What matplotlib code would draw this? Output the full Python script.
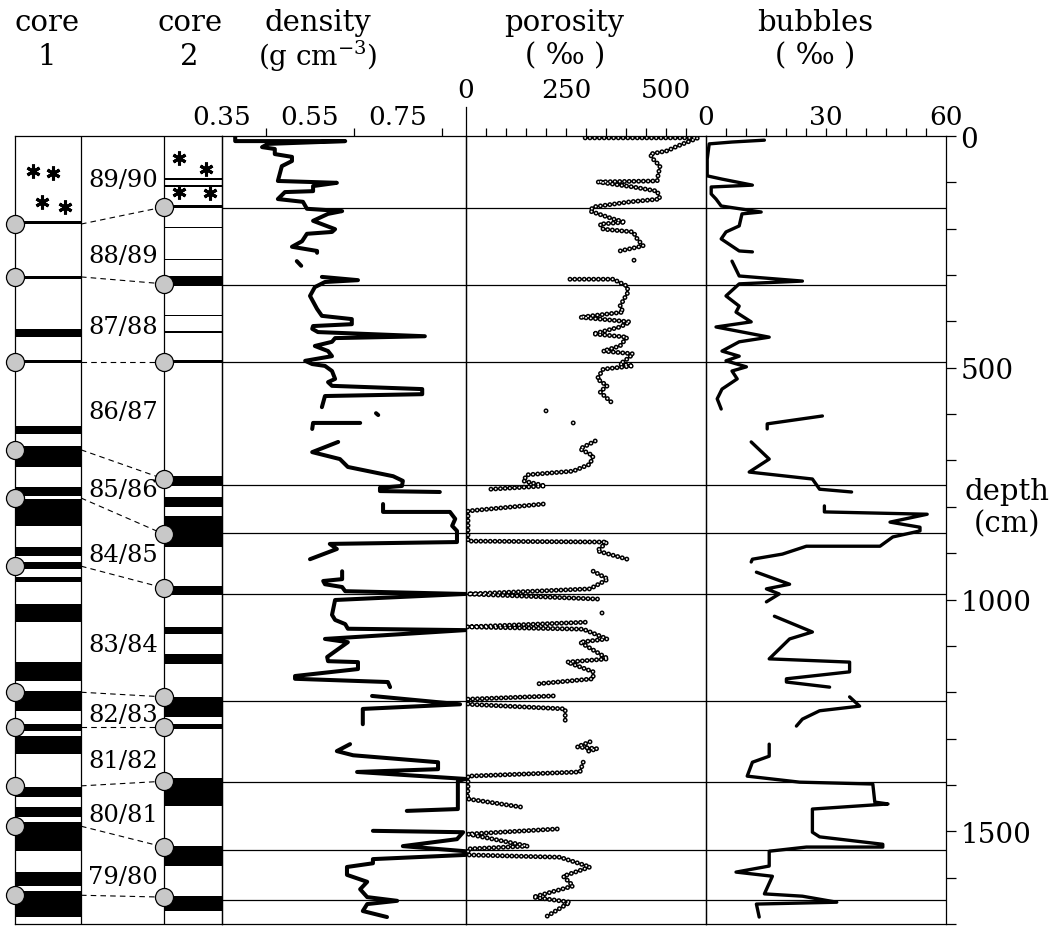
import numpy as np
import matplotlib
matplotlib.use('Agg')
import matplotlib.pyplot as plt

plt.rcParams['font.family'] = ['DejaVu Serif', 'DejaVu Sans']
plt.rcParams['mathtext.fontset'] = 'dejavuserif'
plt.rcParams['lines.scale_dashes'] = False

nan = np.nan

# ---------------- data (depth in cm) ----------------
density_depth = [0, 11, 11, 17, 24, 28, 39, 45, 54, 65, 97, 101, 108, 119, 121, 136, 142, 157, 162, 168, 183, 201, 207, 211, 227, 239, 248, 252, nan,
                 270, 280, nan,
                 304, 311, 315, 326, 345, 373, 388, 395, 406, 410, 416, 423, 432, 436, 444, 453, 464, 475, 485, 492, 496, 507, 524, 531, 539, 546, 557, 561, 585, nan,
                 598, 602, nan,
                 632, 619, 619, nan,
                 660, 682, 697, 714, 734, 744, 755, 759, 766, 768, nan,
                 794, 811, 811, 826, 841, 852, 876, 880, 891, 913, nan,
                 939, 956, 960, 967, 973, 982, 988, 1001, 1033, 1044, 1053, 1063, 1066, 1085, 1092, 1107, 1124, 1133, 1135, 1150, 1165, 1171, 1178, 1189, nan,
                 1208, 1226, 1236, 1269, nan,
                 1312, 1327, 1336, 1351, 1366, 1372, 1387, 1392, 1452, 1456, nan,
                 1499, 1502, 1517, 1532, 1543, 1551, 1560, 1569, 1577, 1594, 1609, 1625, 1642, 1650, 1657, 1672, 1685]
density_value = [0.380, 0.380, 0.630, 0.455, 0.441, 0.470, 0.470, 0.509, 0.509, 0.486, 0.477, 0.611, 0.557, 0.557, 0.493, 0.477, 0.534, 0.543, 0.623, 0.591, 0.557, 0.607, 0.600, 0.543, 0.532, 0.509, 0.566, 0.566, nan,
                 0.520, 0.530, nan,
                 0.577, 0.659, 0.584, 0.561, 0.550, 0.566, 0.577, 0.645, 0.645, 0.557, 0.555, 0.568, 0.811, 0.607, 0.600, 0.561, 0.591, 0.600, 0.539, 0.555, 0.584, 0.600, 0.607, 0.591, 0.600, 0.805, 0.805, 0.584, 0.577, nan,
                 0.700, 0.705, nan,
                 0.555, 0.557, 0.664, nan,
                 0.614, 0.555, 0.618, 0.636, 0.739, 0.761, 0.759, 0.709, 0.709, 0.845, nan,
                 0.716, 0.716, 0.868, 0.880, 0.873, 0.884, 0.884, 0.595, 0.611, 0.550, nan,
                 0.623, 0.623, 0.580, 0.584, 0.623, 0.630, 0.903, 0.607, 0.600, 0.607, 0.630, 0.636, 0.903, 0.584, 0.636, 0.614, 0.589, 0.591, 0.659, 0.659, 0.516, 0.516, 0.727, 0.732, nan,
                 0.691, 0.891, 0.670, 0.670, nan,
                 0.641, 0.611, 0.648, 0.841, 0.841, 0.657, 0.903, 0.886, 0.886, 0.770, nan,
                 0.693, 0.898, 0.884, 0.761, 0.903, 0.903, 0.693, 0.693, 0.634, 0.634, 0.680, 0.664, 0.680, 0.748, 0.680, 0.670, 0.725]

porosity_depth = [4, 4, 22, 32, 39, 50, 65, 86, 97, 99, 110, 119, 136, 142, 153, 162, 179, 186, 190, 201, 207, 222, 237, 248, 255, nan,
                  268, 274, nan,
                  309, 309, 324, 337, 367, 380, 391, 401, 412, 427, 434, 453, 464, 470, 481, 492, 496, 503, 524, 539, 552, 578, nan,
                  593, 597, nan,
                  619, 623, nan,
                  658, 675, 690, 708, 723, 731, 744, 755, 762, nan,
                  794, 809, 874, 876, 895, 913, nan,
                  939, 956, 977, 988, 999, nan,
                  1029, 1033, nan,
                  1049, 1059, 1064, 1085, 1092, 1128, 1135, 1156, 1171, 1182, nan,
                  1208, 1215, 1226, 1236, 1264, nan,
                  1307, 1318, 1322, 1329, nan,
                  1351, 1372, 1381, 1409, 1430, 1448, nan,
                  1495, 1506, 1532, 1538, 1551, 1556, 1577, 1597, 1618, 1642, 1653, 1683]
porosity_value = [298, 580, 528, 503, 460, 468, 485, 480, 478, 328, 418, 478, 485, 410, 318, 310, 368, 398, 335, 343, 418, 428, 443, 385, 385, nan,
                  420, 428, nan,
                  260, 368, 403, 405, 385, 393, 285, 410, 385, 318, 403, 385, 343, 418, 403, 385, 418, 343, 328, 353, 335, 368, nan,
                  200, 210, nan,
                  268, 278, nan,
                  323, 285, 318, 310, 268, 153, 143, 198, 60, nan,
                  193, 5, 5, 353, 328, 403, nan,
                  318, 355, 310, 5, 330, nan,
                  340, 346, nan,
                  298, 3, 293, 353, 285, 355, 253, 318, 318, 178, nan,
                  218, 5, 5, 248, 248, nan,
                  310, 278, 328, 298, nan,
                  293, 285, 5, 5, 3, 140, nan,
                  228, 5, 155, 5, 5, 235, 310, 243, 268, 168, 260, 203]

bubbles_depth = [9, 13, 17, 50, 86, 93, 106, 110, 125, 136, 151, 164, 168, 194, 207, 222, 248, 250, nan,
                 270, 302, 313, 319, 345, 367, 380, 401, 412, 434, 444, 464, 475, 485, 498, 507, 524, 546, 567, 589, nan,
                 604, 621, 632, nan,
                 660, 697, 725, 740, 762, 768, nan,
                 798, 811, 816, 833, 844, 852, 865, 885, 885, 902, 913, 919, nan,
                 941, 967, 977, 988, 1005, nan,
                 1036, 1070, 1085, 1128, 1135, 1156, 1171, 1178, 1189, nan,
                 1210, 1230, 1240, 1258, 1273, nan,
                 1312, 1338, 1351, 1381, 1394, 1398, 1437, 1441, 1452, 1502, 1512, 1528, 1534, 1534, 1543, 1575, 1588, 1597, 1635, 1640, 1653, 1657, 1685]
bubbles_value = [14.6, 6.5, 0.8, 0.3, 0.3, 4.0, 11.6, 1.3, 1.3, 2.5, 3.8, 13.8, 9.0, 8.3, 5.0, 3.8, 8.3, 11.6, nan,
                 6.5, 8.3, 24.1, 8.3, 5.0, 8.3, 7.5, 11.3, 2.5, 15.8, 8.3, 4.0, 8.3, 5.0, 10.1, 6.5, 7.8, 4.0, 2.8, 3.8, nan,
                 29.1, 15.3, 15.3, nan,
                 11.3, 15.8, 10.8, 26.6, 28.4, 36.4, nan,
                 29.6, 29.6, 55.3, 46.0, 53.5, 53.5, 46.7, 43.5, 25.1, 19.1, 11.6, 11.3, nan,
                 12.6, 20.9, 15.1, 18.3, 15.1, nan,
                 17.1, 26.6, 20.9, 15.8, 35.9, 35.9, 20.1, 20.1, 30.9, nan,
                 35.9, 38.4, 28.4, 24.1, 22.6, nan,
                 15.8, 15.8, 11.6, 10.3, 23.4, 41.7, 42.2, 45.5, 26.6, 26.6, 28.4, 44.2, 44.2, 25.1, 15.8, 15.8, 7.5, 16.6, 14.6, 24.1, 32.7, 12.6, 13.3]

# ice layers (dark bands) in the two cores: top / bottom depth
core1_top = [184, 302, 416, 483, 626, 669, 757, 783, 887, 919, 951, 1010, 1135, 1197, 1269, 1295, 1405, 1448, 1480, 1588, 1629]
core1_bottom = [189, 309, 434, 490, 643, 714, 777, 841, 906, 934, 962, 1049, 1176, 1241, 1284, 1333, 1426, 1469, 1543, 1618, 1685]
core2_top = [91, 106, 149, 196, 265, 302, 386, 421, 483, 734, 779, 820, 971, 1059, 1118, 1210, 1269, 1385, 1532, 1640]
core2_bottom = [94, 109, 155, 199, 268, 324, 389, 424, 490, 755, 800, 887, 990, 1074, 1139, 1254, 1280, 1446, 1575, 1672]

# dated horizons (circles) in each core
core1_marks = [190, 304, 488, 677, 781, 928, 1200, 1275, 1402, 1489, 1638]
core2_marks = [153, 319, 488, 740, 859, 975, 1210, 1275, 1392, 1534, 1642]
boundary_depths = [155, 322, 488, 753, 857, 987, 1218, 1394, 1541, 1649]

year_labels = ['89/90', '88/89', '87/88', '86/87', '85/86', '84/85', '83/84', '82/83', '81/82', '80/81', '79/80']
year_label_depths = [93, 257, 412, 595, 762, 902, 1096, 1247, 1348, 1463, 1597]

core1_star_x = [18, 38, 27, 50]
core1_star_depth = [76, 80, 142, 153]
core2_star_x = [164, 191, 164, 195]
core2_star_depth = [47, 71, 121, 123]

density_ticklabels = [0.35, 0.55, 0.75]
porosity_ticklabels = [0, 250, 500]
bubbles_ticklabels = [0, 30, 60]

# ---------------- layout ----------------
W, H = 1060, 929
fig = plt.figure(figsize=(W / 100, H / 100), dpi=100)
fig.patch.set_facecolor('white')


def rect(x0, x1, y0=137, y1=925):
    return [x0 / W, 1 - y1 / H, (x1 - x0) / W, (y1 - y0) / H]


ax_c = fig.add_axes(rect(15, 222))
ax_d = fig.add_axes(rect(222, 466))
ax_p = fig.add_axes(rect(466, 706))
ax_b = fig.add_axes(rect(706, 946))

LW = 0.9
for ax in (ax_c, ax_d, ax_p, ax_b):
    ax.set_ylim(1700, 0)
    ax.set_facecolor('none')
    for s in ax.spines.values():
        s.set_linewidth(LW)
    ax.tick_params(left=False, labelleft=False, bottom=False, labelbottom=False,
                   top=False, labeltop=False, right=False, labelright=False)

# ---- core columns ----
ax_c.set_xlim(0, 207)
C1 = (0, 66)
C2 = (149, 207)
ax_c.axvline(C1[1], color='black', lw=LW)
ax_c.axvline(C2[0], color='black', lw=LW)
for t, b in zip(core1_top, core1_bottom):
    ax_c.fill_between(C1, [t, t], [b, b], color='black', lw=0)
for t, b in zip(core2_top, core2_bottom):
    ax_c.fill_between(C2, [t, t], [b, b], color='black', lw=0)
for d1, d2 in zip(core1_marks, core2_marks):
    ax_c.plot([C1[1], C2[0]], [d1, d2], color='black', lw=0.8, ls=(0, (4, 3)))
ax_c.plot([C1[0]] * len(core1_marks), core1_marks, 'o', ms=13, mfc='#c8c8c8', mec='black',
          mew=0.9, clip_on=False, zorder=5)
ax_c.plot([C2[0]] * len(core2_marks), core2_marks, 'o', ms=13, mfc='#c8c8c8', mec='black',
          mew=0.9, clip_on=False, zorder=5)
ax_c.plot(core1_star_x, core1_star_depth, ls='none', marker=(6, 2, 0), ms=10, mew=2.2, color='black')
ax_c.plot(core2_star_x, core2_star_depth, ls='none', marker=(6, 2, 0), ms=10, mew=2.2, color='black')
for lab, d in zip(year_labels, year_label_depths):
    ax_c.text(108, d, lab, ha='center', va='center', fontsize=17.5)

# ---- boundaries across data panels ----
for ax in (ax_d, ax_p, ax_b):
    for d in boundary_depths:
        ax.axhline(d, color='black', lw=LW)

# ---- density ----
ax_d.set_xlim(0.35, 0.9045)
ax_d.plot(density_value, density_depth, color='black', lw=2.9,
          solid_capstyle='round', solid_joinstyle='round')
ax_d.set_xticks([0.45, 0.65, 0.85])
ax_d.tick_params(axis='x', top=True, length=5.8, width=LW, direction='out')

# ---- porosity (chain of small rings) ----
ax_p.set_xlim(0, 600)
ax_p.plot(porosity_value, porosity_depth, color='black', lw=3.6, ls=(0, (0.01, 3.4)),
          dash_capstyle='round')
ax_p.plot(porosity_value, porosity_depth, color='white', lw=1.4, ls=(0, (0.01, 3.4)),
          dash_capstyle='round')
ax_p.set_xticks(list(range(50, 600, 50)))
ax_p.tick_params(axis='x', top=True, length=5.8, width=LW, direction='out')
ax_p.plot([0, 0], [0, -63], color='black', lw=LW, clip_on=False)

# ---- bubbles ----
ax_b.set_xlim(0, 60)
ax_b.plot(bubbles_value, bubbles_depth, color='black', lw=2.4,
          solid_capstyle='round', solid_joinstyle='round')
ax_b.set_xticks(list(range(5, 60, 5)))
ax_b.tick_params(axis='x', top=True, length=5.8, width=LW, direction='out')
ax_b.yaxis.set_ticks_position('right')
depth_ticks = list(range(0, 1701, 100))
ax_b.set_yticks(depth_ticks)
ax_b.set_yticklabels([str(d) if d % 500 == 0 else '' for d in depth_ticks])
ax_b.tick_params(axis='y', right=True, labelright=True, length=7.5, width=LW,
                 direction='out', labelsize=20, pad=3)

# ---- top scale labels ----
for v in density_ticklabels:
    ax_d.text(v, 1 + 12 / 788, f'{v:.2f}', transform=ax_d.get_xaxis_transform(),
              ha='center', va='baseline', fontsize=19)
for v in porosity_ticklabels:
    ax_p.text(v, 1 + 39 / 788, str(v), transform=ax_p.get_xaxis_transform(),
              ha='center', va='baseline', fontsize=19)
for v in bubbles_ticklabels:
    ax_b.text(v, 1 + 12 / 788, str(v), transform=ax_b.get_xaxis_transform(),
              ha='center', va='baseline', fontsize=19)


# ---- headers ----
def ftext(px, py, s, size=21, **kw):
    fig.text(px / W, 1 - py / H, s, ha='center', va='baseline', fontsize=size, **kw)


ftext(47, 31, 'core')
ftext(47, 65, '1')
ftext(190, 31, 'core')
ftext(189, 65, '2')
ftext(318, 31, 'density')
ftext(318, 66, '(g cm$^{\\mathdefault{-3}}$)', size=20)
ftext(564, 31, 'porosity')
ftext(565, 64, '( \u2030 )')
ftext(815, 31, 'bubbles')
ftext(815, 64, '( \u2030 )')
ftext(1007, 500, 'depth')
ftext(1007, 532, '(cm)')

fig.savefig('out.png', dpi=100)
